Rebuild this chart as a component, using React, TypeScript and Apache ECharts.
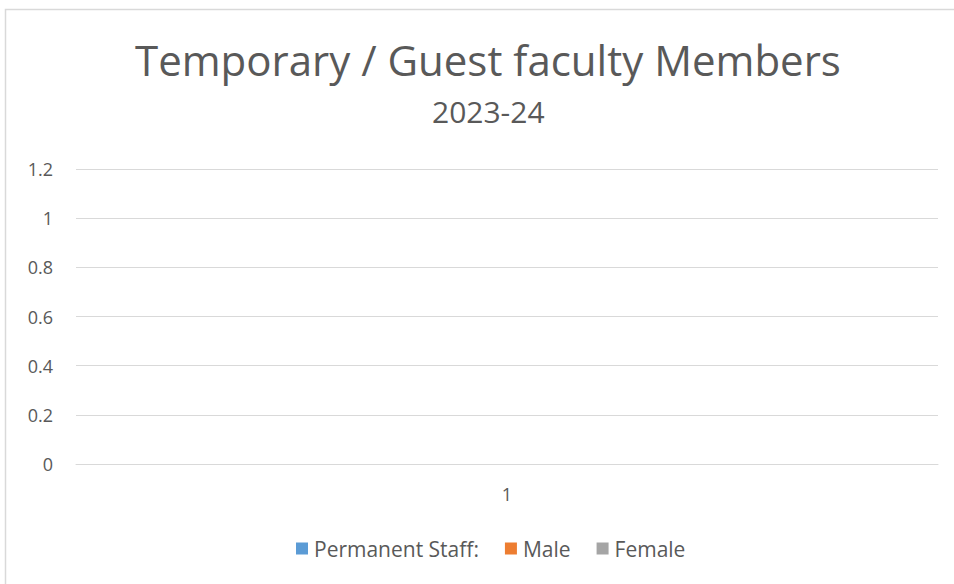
import React, { useEffect, useRef } from "react";
import * as echarts from "echarts";

const categories: string[] = ["1"];
const seriesNames: string[] = ["Permanent Staff:", "Male", "Female"];
const permanentStaff: (number | null)[] = [null];
const male: (number | null)[] = [null];
const female: (number | null)[] = [null];
const seriesColors: string[] = ["#5B9BD5", "#ED7D31", "#A5A5A5"];
const titleText = "Temporary / Guest faculty Members";
const subtitleText = "2023-24";
const yMin = 0;
const yMax = 1.2;
const yInterval = 0.2;

const FONT = "'Open Sans', 'Noto Sans', sans-serif";
const TEXT_COLOR = "#595959";

export default function App() {
  const ref = useRef<HTMLDivElement>(null);
  useEffect(() => {
    if (!ref.current) return;
    const chart = echarts.init(ref.current, undefined, { renderer: "svg" });
    const values = [permanentStaff, male, female];
    chart.setOption({
      animation: false,
      backgroundColor: "#ffffff",
      textStyle: { fontFamily: FONT },
      color: seriesColors,
      title: [
        {
          text: titleText,
          left: 130,
          top: 33,
          textStyle: { fontFamily: FONT, fontSize: 42, fontWeight: "normal", color: TEXT_COLOR },
        },
        {
          text: subtitleText,
          left: 427,
          top: 91,
          textStyle: { fontFamily: FONT, fontSize: 30, fontWeight: "normal", color: TEXT_COLOR },
        },
      ],
      graphic: [
        {
          type: "rect",
          shape: { x: 5.5, y: 9.5, width: 1200, height: 1200 },
          style: { fill: "none", stroke: "#D9D9D9", lineWidth: 1.5 },
          silent: true,
          z: 100,
        },
      ],
      legend: {
        top: 533,
        left: 291,
        icon: "rect",
        itemWidth: 12,
        itemHeight: 12,
        itemGap: 26,
        textStyle: { fontFamily: FONT, fontSize: 21, color: TEXT_COLOR, padding: [0, 0, 0, 1] },
        data: seriesNames,
      },
      grid: { left: 76, right: 16, top: 169, bottom: 120, containLabel: false },
      xAxis: {
        type: "category",
        data: categories,
        axisLine: { show: true, lineStyle: { color: "#D9D9D9", width: 1 } },
        axisTick: { show: false },
        axisLabel: { fontFamily: FONT, fontSize: 18, color: TEXT_COLOR, margin: 21 },
      },
      yAxis: {
        type: "value",
        min: yMin,
        max: yMax,
        interval: yInterval,
        axisLine: { show: false },
        axisTick: { show: false },
        axisLabel: { fontFamily: FONT, fontSize: 18, color: TEXT_COLOR, margin: 23 },
        splitLine: { lineStyle: { color: "#D9D9D9", width: 1 } },
      },
      series: seriesNames.map((name, i) => ({
        name,
        type: "bar",
        data: values[i],
        itemStyle: { color: seriesColors[i] },
      })),
    });
    return () => chart.dispose();
  }, []);
  return (
    <div
      ref={ref}
      style={{ position: "absolute", left: 0, top: 0, width: 954, height: 584 }}
    />
  );
}
